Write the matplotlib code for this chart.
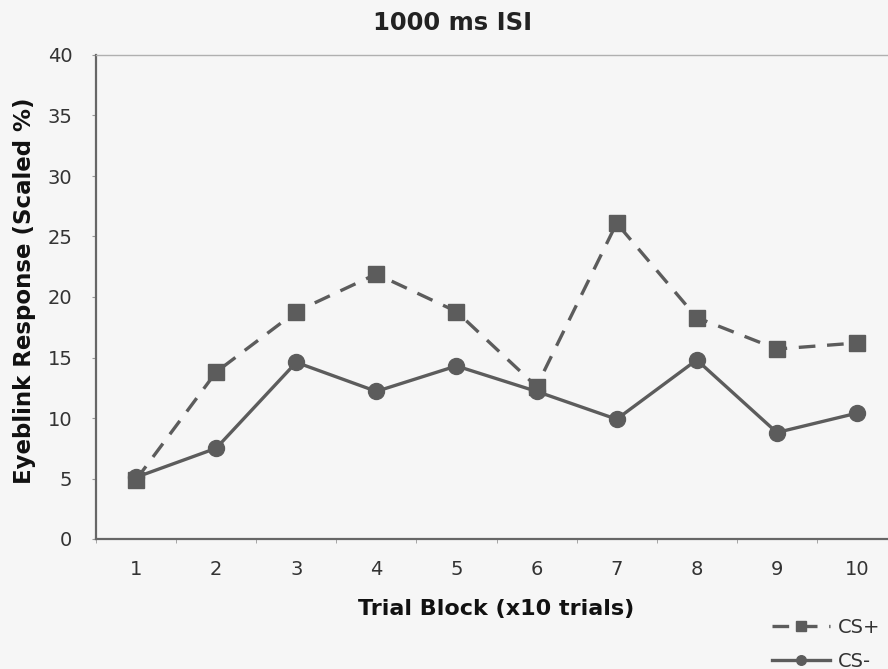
import matplotlib
matplotlib.use("Agg")
import matplotlib.pyplot as plt
import numpy as np

blocks = [1, 2, 3, 4, 5, 6, 7, 8, 9, 10]
cs_plus = [4.9, 13.8, 18.8, 21.9, 18.8, 12.6, 26.1, 18.3, 15.7, 16.2]
cs_minus = [5.1, 7.5, 14.6, 12.2, 14.3, 12.2, 9.9, 14.8, 8.8, 10.4]
yticks = [0, 5, 10, 15, 20, 25, 30, 35, 40]

W, H = 888, 669
fig = plt.figure(figsize=(W / 100, H / 100), dpi=100)
bg = "#f6f6f6"
fig.patch.set_facecolor(bg)
ax = fig.add_axes([96 / W, 1 - 539 / H, 801 / W, (539 - 55) / H])
ax.set_facecolor(bg)

col = "#5c5c5c"
ax.plot(blocks, cs_plus, color=col, lw=2.4, ls=(0, (5, 3.5)), marker="s", ms=11.5,
        mfc=col, mec=col, label="CS+", zorder=3)
ax.plot(blocks, cs_minus, color=col, lw=2.4, ls="-", marker="o", ms=11.5,
        mfc=col, mec=col, label="CS-", zorder=3)

ax.set_xlim(0.5, 10.5)
ax.set_ylim(0, 40)
ax.set_yticks(yticks)
ax.set_xticks(blocks)
ax.set_xticks(np.arange(0.5, 11, 1), minor=True)
ax.tick_params(axis="x", which="major", length=0, pad=15, labelsize=14, labelcolor="#333333")
ax.tick_params(axis="x", which="minor", length=3, color="#999999", direction="out")
ax.tick_params(axis="y", length=3, color="#999999", direction="out", labelsize=14,
               labelcolor="#333333", pad=14)
ax.spines["right"].set_visible(False)
ax.spines["top"].set_color("#b0b0b0")
ax.spines["top"].set_linewidth(1.0)
for s in ["left", "bottom"]:
    ax.spines[s].set_color("#666666")
    ax.spines[s].set_linewidth(1.6)

fig.text(453 / W, 1 - 23 / H, "1000 ms ISI", fontsize=17.5, fontweight="bold",
         color="#222222", ha="center", va="center")
ax.set_xlabel("Trial Block (x10 trials)", fontsize=16, fontweight="bold", color="#111111")
ax.xaxis.set_label_coords(0.5, (539 - 599) / 484)
ax.set_ylabel("Eyeblink Response (Scaled %)", fontsize=16.5, fontweight="bold", color="#111111")
ax.yaxis.set_label_coords((36 - 96) / 801, (539 - 291) / 484)

fig.legend(loc="upper left", bbox_to_anchor=(772 / W, 1 - 618 / H), frameon=False,
           fontsize=14, handlelength=3.0, handletextpad=0.4, labelspacing=0.75,
           borderpad=0, borderaxespad=0, markerscale=0.6, labelcolor="#333333")

fig.savefig("out.png", dpi=100, facecolor=bg)
